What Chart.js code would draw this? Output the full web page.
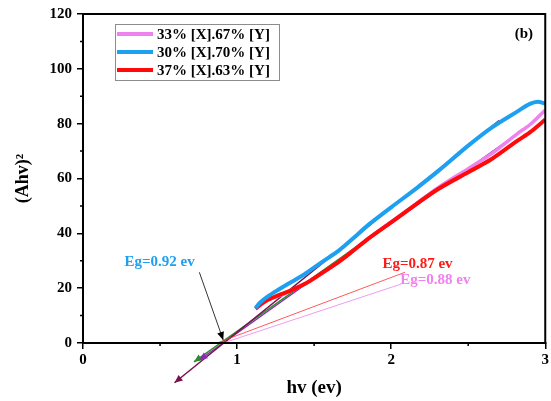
<!DOCTYPE html>
<html>
<head>
<meta charset="utf-8">
<script src="https://cdn.jsdelivr.net/npm/chart.js@4.4.0/dist/chart.umd.min.js"></script>
<style>
html,body{margin:0;padding:0;background:#fff}
</style>
</head>
<body>
<canvas id="myChart" width="551" height="401"></canvas>
<script>
const seriesNames = ['33% [X].67% [Y]', '30% [X].70% [Y]', '37% [X].63% [Y]']
const seriesColors = ['#ee82ee', '#1ea0f0', '#ff0a0a']

const hv33 = [1.12, 1.2, 1.3, 1.46, 1.66, 1.85, 2.0, 2.17, 2.3, 2.5, 2.65, 2.82, 2.9, 3.0]
const ahv33 = [12.4, 15.6, 17.8, 22.2, 29.6, 38.0, 44.2, 51.1, 56.5, 63.6, 69.0, 76.4, 79.6, 85.0]

const hv30 = [1.12, 1.15, 1.2, 1.27, 1.335, 1.4, 1.46, 1.55, 1.66, 1.75, 1.85, 2.0, 2.17, 2.3, 2.5, 2.65, 2.82, 2.9, 2.95, 3.0]
const ahv30 = [12.8, 14.8, 17.0, 19.5, 21.7, 23.8, 25.9, 29.5, 33.7, 38.0, 43.0, 49.5, 56.7, 62.5, 72.0, 78.5, 84.5, 87.2, 88.0, 87.3]

const hv37 = [1.12, 1.15, 1.2, 1.27, 1.335, 1.4, 1.46, 1.55, 1.66, 1.75, 1.85, 2.0, 2.17, 2.3, 2.5, 2.65, 2.82, 2.9, 3.0]
const ahv37 = [12.5, 14.0, 15.8, 17.5, 18.8, 20.5, 22.2, 25.5, 29.6, 33.5, 38.0, 44.0, 50.9, 56.0, 62.3, 67.0, 73.8, 76.8, 81.5]

// extrapolated fits (first point gets the arrow head)
const fit30 = [[0.594, -14.5], [2.7, 81.1]]
const fit37 = [[0.72, -6.9], [2.3, 56]]
const fit33 = [[0.755, -6.2], [2.85, 77.6]]
// pointers from the Eg labels
const ptr37 = [[0.87, 0], [2.09, 25.8]]
const ptr33 = [[0.91, 0], [2.065, 21.5]]
const ptr30 = [[0.91, 1.1], [0.755, 25.8]]

const egLabels = ['Eg=0.92 ev', 'Eg=0.87 ev', 'Eg=0.88 ev']
const egPos = [[0.497, 29.5], [2.171, 28.7], [2.287, 22.9]]
const egColors = ['#1ea0f0', '#ff1a1a', '#ee82ee']

const yTicks = [0, 20, 40, 60, 80, 100, 120]
const xTicks = [0, 1, 2, 3]

const serif = "'Liberation Serif', 'Times New Roman', serif"

function pts(xs, ys) {
  return xs.map((x, i) => ({x: x, y: ys[i]}))
}
function seg(arr) {
  return arr.map(p => ({x: p[0], y: p[1]}))
}

function curve(i, xs, ys, w, ord) {
  return {label: seriesNames[i], data: pts(xs, ys), borderColor: seriesColors[i], borderWidth: w,
    pointRadius: 0, tension: 0.3, order: ord}
}
function thin(data, color, w, arrow, ord) {
  return {label: '', data: seg(data), borderColor: color, borderWidth: w, pointRadius: 0,
    order: ord, clip: false, arrow: arrow}
}

const extras = {
  id: 'extras',
  beforeDraw(chart) {
    const c = chart.ctx
    c.save()
    c.fillStyle = '#fff'
    c.fillRect(0, 0, chart.width, chart.height)
    c.restore()
  },
  afterDatasetsDraw(chart) {
    const c = chart.ctx
    const xs = chart.scales.x, ys = chart.scales.y
    const a = chart.chartArea
    c.save()
    // arrow heads
    chart.data.datasets.forEach(ds => {
      if (!ds.arrow) return
      const p0 = ds.data[0], p1 = ds.data[1]
      const x0 = xs.getPixelForValue(p0.x), y0 = ys.getPixelForValue(p0.y)
      const x1 = xs.getPixelForValue(p1.x), y1 = ys.getPixelForValue(p1.y)
      const ang = Math.atan2(y0 - y1, x0 - x1)
      const L = 8, W = 3.5
      c.fillStyle = ds.borderColor
      c.beginPath()
      c.moveTo(x0, y0)
      c.lineTo(x0 - L * Math.cos(ang) + W * Math.sin(ang), y0 - L * Math.sin(ang) - W * Math.cos(ang))
      c.lineTo(x0 - L * Math.cos(ang) - W * Math.sin(ang), y0 - L * Math.sin(ang) + W * Math.cos(ang))
      c.closePath()
      c.fill()
    })
    // frame top / right
    c.strokeStyle = '#000'
    c.lineWidth = 2
    c.strokeRect(a.left, a.top, a.right - a.left, a.bottom - a.top)
    // minor ticks
    c.lineWidth = 1.5
    c.beginPath()
    for (let v = 10; v < 120; v += 20) {
      const y = ys.getPixelForValue(v)
      c.moveTo(a.left - 3, y); c.lineTo(a.left, y)
    }
    for (let v = 0.5; v < 3; v += 1) {
      const x = xs.getPixelForValue(v)
      c.moveTo(x, a.bottom); c.lineTo(x, a.bottom + 3)
    }
    c.stroke()
    // Eg labels
    c.font = 'bold 15px ' + serif
    c.textAlign = 'center'
    c.textBaseline = 'middle'
    egLabels.forEach((t, i) => {
      c.fillStyle = egColors[i]
      c.fillText(t, xs.getPixelForValue(egPos[i][0]), ys.getPixelForValue(egPos[i][1]))
    })
    c.fillStyle = '#000'
    c.fillText('(b)', xs.getPixelForValue(2.861), ys.getPixelForValue(112.7))
    // legend
    const lx = 115, ly = 24, lw = 164, lh = 56
    c.fillStyle = '#fff'
    c.fillRect(lx, ly, lw, lh)
    c.strokeStyle = '#8c8c8c'
    c.lineWidth = 1
    c.strokeRect(lx + 0.5, ly + 0.5, lw, lh)
    c.font = 'bold 15px ' + serif
    c.textAlign = 'left'
    const order = [0, 1, 2]
    order.forEach((k, i) => {
      const y = ly + 10 + i * 18
      c.strokeStyle = seriesColors[k]
      c.lineWidth = 4
      c.beginPath(); c.moveTo(lx + 2, y); c.lineTo(lx + 38, y); c.stroke()
      c.fillStyle = '#000'
      c.fillText(seriesNames[k], lx + 42, y + 1)
    })
    c.restore()
  }
}

new Chart('myChart', {
  type: 'line',
  data: {
    datasets: [
      curve(0, hv33, ahv33, 3.5, 2.5),
      curve(1, hv30, ahv30, 4, 2),
      curve(2, hv37, ahv37, 4, 2),
      thin(fit30, '#7a1050', 1.5, true, 3),
      thin(fit37, '#2e8b2e', 1.5, true, 3),
      thin(fit33, '#8a2bb0', 1.5, true, 3),
      thin(ptr37, '#ff3030', 0.8, false, 1),
      thin(ptr33, '#ee82ee', 0.8, false, 1),
      thin(ptr30, '#000', 0.8, true, 1)
    ]
  },
  options: {
    responsive: false,
    animation: false,
    layout: {padding: {top: 13, right: 4, left: 0, bottom: 0}},
    plugins: {legend: {display: false}, tooltip: {enabled: false}},
    scales: {
      x: {
        type: 'linear', min: 0, max: 3,
        afterFit: s => { s.height = 58 },
        afterBuildTicks: s => { s.ticks = xTicks.map(v => ({value: v})) },
        border: {color: '#000', width: 2},
        grid: {drawOnChartArea: false, tickLength: 6, color: '#000', lineWidth: 1.5},
        ticks: {color: '#000', padding: 2, maxRotation: 0, font: {family: serif, size: 15, weight: 'bold'}},
        title: {display: true, text: 'hv (ev)', color: '#000', padding: {top: 0, bottom: 2},
          font: {family: serif, size: 19, weight: 'bold'}}
      },
      y: {
        min: 0, max: 120,
        afterFit: s => { s.width = 83 },
        afterBuildTicks: s => { s.ticks = yTicks.map(v => ({value: v})) },
        border: {color: '#000', width: 2},
        grid: {drawOnChartArea: false, tickLength: 6, color: '#000', lineWidth: 1.5},
        ticks: {color: '#000', padding: 5, font: {family: serif, size: 15, weight: 'bold'}},
        title: {display: true, text: '(Ahv)²', color: '#000', padding: {top: 13, bottom: 0},
          font: {family: serif, size: 18, weight: 'bold'}}
      }
    }
  },
  plugins: [extras]
})
</script>
</body>
</html>
